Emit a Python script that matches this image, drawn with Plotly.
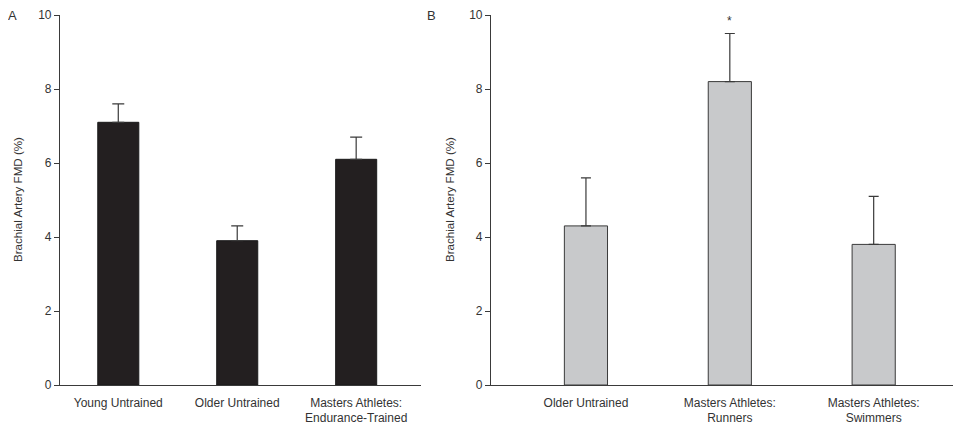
import plotly.graph_objects as go

cats_a = ["Young Untrained", "Older Untrained", "Masters Athletes:<br>Endurance-Trained"]
vals_a = [7.1, 3.9, 6.1]
err_a = [0.5, 0.4, 0.6]

cats_b = ["Older Untrained", "Masters Athletes:<br>Runners", "Masters Athletes:<br>Swimmers"]
vals_b = [4.3, 8.2, 3.8]
err_b = [1.3, 1.3, 1.3]

y_ticks = [0, 2, 4, 6, 8, 10]
y_title = "Brachial Artery FMD (%)"

# page has an 8px body margin; figure drawn in a 953x418 box offset by 8px
W, H = 953, 418
OFF = 8
axc = "#3a3a3a"
font = dict(family="Liberation Sans, Arial, sans-serif", size=12, color="#333333")

def px(x):
    return (x - OFF) / W

fig = go.Figure()
fig.add_trace(go.Bar(
    x=cats_a, y=vals_a, xaxis="x", yaxis="y", width=0.345,
    marker=dict(color="#231f20", line=dict(color="#1a1a1a", width=1)),
    error_y=dict(type="data", symmetric=False, array=err_a, arrayminus=[0]*3,
                 color=axc, thickness=1.2, width=6),
    showlegend=False))
fig.add_trace(go.Bar(
    x=cats_b, y=vals_b, xaxis="x2", yaxis="y2", width=0.30,
    marker=dict(color="#c8c9cb", line=dict(color="#3a3a3a", width=1)),
    error_y=dict(type="data", symmetric=False, array=err_b, arrayminus=[0]*3,
                 color=axc, thickness=1.2, width=5),
    showlegend=False))

yax = dict(range=[0, 10], tickvals=y_ticks, ticks="outside", ticklen=5, tickcolor=axc,
           showline=True, linecolor=axc, linewidth=1.2, showgrid=False, zeroline=False,
           tickfont=font, automargin=False)
xax = dict(ticks="outside", ticklen=6, tickcolor="rgba(0,0,0,0)", showline=True,
           linecolor=axc, linewidth=1.2, showgrid=False,
           tickfont=font, automargin=False, type="category")

fig.update_layout(
    width=W, height=H, margin=dict(l=0, r=0, t=15 - OFF, b=41),
    paper_bgcolor="white", plot_bgcolor="white",
    xaxis=dict(xax, domain=[px(60), px(421)], range=[-0.49, 2.545], anchor="y"),
    yaxis=dict(yax, domain=[0, 1], anchor="x"),
    xaxis2=dict(xax, domain=[px(491), px(960)], range=[-0.66, 2.6], anchor="y2"),
    yaxis2=dict(yax, domain=[0, 1], anchor="x2"),
    font=font,
)

fig.add_annotation(text="A", x=px(12), y=1, xref="paper", yref="paper", yanchor="middle",
                   xanchor="center", showarrow=False, font=dict(font, size=13))
fig.add_annotation(text="B", x=px(431), y=1, xref="paper", yref="paper", yanchor="middle",
                   xanchor="center", showarrow=False, font=dict(font, size=13))
fig.add_annotation(text=y_title, x=px(17), y=0.5, xref="paper", yref="paper", textangle=-90,
                   showarrow=False, font=dict(font, size=11.6), xanchor="center", yanchor="middle")
fig.add_annotation(text=y_title, x=px(449), y=0.5, xref="paper", yref="paper", textangle=-90,
                   showarrow=False, font=dict(font, size=11.6), xanchor="center", yanchor="middle")
fig.add_annotation(text="*", x=cats_b[1], y=vals_b[1] + err_b[1], xref="x2", yref="y2",
                   yanchor="bottom", yshift=4, showarrow=False, font=dict(font, size=12))

fig.write_html("out.html")
